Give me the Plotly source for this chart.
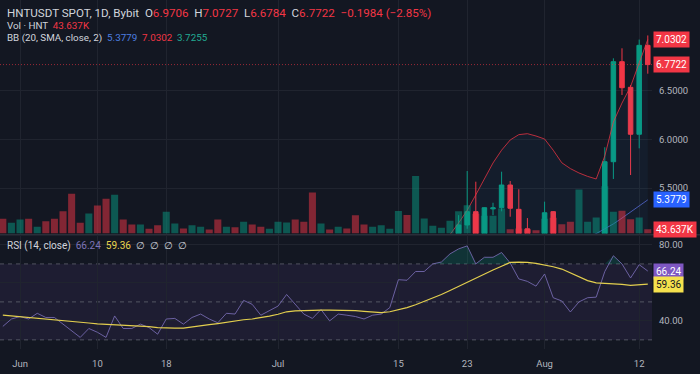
import pandas as pd
import numpy as np
import plotly.graph_objects as go

# ---------------- data ----------------
dates = pd.date_range("2024-05-30", "2024-08-13", freq="D")

N = None
open_ = [N]*53 + [5.02, 5.119, 5.256, 4.95, 5.285, 5.297, 5.531, 5.28, 5.08, N,
                  4.98, 5.256, N, N, N, N, N, 4.95, 5.771, 6.802, 6.538, 6.054, 6.9706]
high_ = [N]*53 + [5.22, 5.675, 5.565, 5.30, 5.348, 5.668, 5.572, 5.487, 5.19, N,
                  5.359, 5.263, N, N, N, N, N, 5.92, 6.837, 6.94, 6.56, 7.03, 7.0727]
low_ = [N]*53 + [4.98, 5.08, 4.90, 4.90, 5.22, 5.26, 5.204, 4.95, 4.95, N,
                 4.95, 4.90, N, N, N, N, N, 4.90, 5.593, 6.459, 5.634, 5.909, 6.6784]
close_ = [N]*53 + [5.119, 5.256, 4.95, 5.297, 5.295, 5.531, 5.291, 4.98, 5.00, N,
                   5.245, 4.95, N, N, N, N, N, 5.771, 6.802, 6.534, 6.054, 6.9706, 6.7722]

volume_k = [149, 109, 142, 149, 68, 125, 149, 226, 403, 109,
            203, 284, 352, 393, 142, 91, 91, 48, 84, 220,
            102, 51, 84, 68, 41, 142, 68, 64, 119, 91,
            68, 48, 119, 112, 142, 119, 416, 102, 41, 68,
            51, 186, 91, 68, 84, 48, 228, 188, 584, 152,
            78, 58, 129, 226, 287, 200, 180, 180, 254, 44,
            50, 44, 34, 150, 160, 94, 119, 447, 119, 162,
            480, 220, 230, 145, 162, 43.637]

# bar direction (u = up / green, d = down / red)
direction = list("duududdddd" "uddudduddu" "uduuddudud" "duuudddudu" "ddduuuuduu"
                 "uuuuuduuud" "ddduddduuu" "uuddud")

bb_upper = [N]*50 + [4.85, 4.93, 5.02, 5.14, 5.27, 5.43, 5.595, 5.758, 5.89, 5.995,
                     6.05, 6.06, 6.036, 6.005, 5.89, 5.76, 5.70, 5.655, 5.62, 5.593,
                     5.83, 6.18, 6.376, 6.546, 6.79, 7.0302]
bb_basis = [N]*68 + [4.99, 5.03, 5.08, 5.13, 5.19, 5.25, 5.31, 5.3779]
bb_lower_last = 3.7255

rsi = [37.1, 41.0, 42.3, 41.0, 44.0, 41.8, 41.8, 38.3, 34.8, 31.3,
       36.0, 34.0, 31.3, 42.6, 36.0, 36.0, 38.3, 36.5, 33.0, 41.0,
       41.3, 38.3, 41.8, 43.6, 41.0, 39.0, 44.0, 43.6, 50.8, 48.7,
       43.0, 45.2, 47.8, 53.9, 48.7, 43.6, 41.3, 46.0, 40.0, 43.6,
       43.0, 42.3, 41.0, 43.0, 43.6, 47.0, 61.7, 61.4, 66.0, 66.0,
       70.0, 71.0, 75.3, 77.9, 79.5, 70.0, 73.5, 73.5, 76.0, 70.5,
       62.1, 60.8, 58.3, 64.7, 52.2, 50.5, 44.7, 50.0, 52.2, 52.5,
       66.0, 74.3, 70.0, 62.6, 69.6, 66.24]
rsi_ma = [43.0, 42.6, 42.3, 41.9, 41.6, 41.2, 40.8, 40.2, 39.8, 39.4,
          38.9, 38.4, 38.2, 38.0, 37.8, 37.7, 37.4, 37.0, 36.5, 36.2,
          36.2, 36.2, 36.9, 37.5, 38.0, 38.6, 39.4, 40.0, 40.6, 41.0,
          41.6, 42.5, 43.5, 44.8, 45.3, 45.5, 45.6, 45.7, 45.7, 45.7,
          45.7, 45.4, 45.0, 44.6, 44.4, 44.8, 45.7, 47.0, 48.5, 50.2,
          51.9, 53.9, 56.0, 58.2, 60.5, 62.5, 64.5, 66.8, 68.8, 70.8,
          70.9, 70.8, 70.3, 69.6, 68.5, 67.3, 65.2, 63.0, 61.2, 60.0,
          59.8, 59.5, 59.2, 58.7, 58.9, 59.36]

tick_dates = ["2024-06-01", "2024-06-10", "2024-06-18", "2024-07-01",
              "2024-07-15", "2024-07-23", "2024-08-01", "2024-08-12"]
tick_text = ["Jun", "10", "18", "Jul", "15", "23", "Aug", "12"]

# ---------------- styling ----------------
BG = "#131722"
GRID = "#20242f"
TXT = "#b2b5be"
UP = "#089981"
DN = "#F23645"
FONT = "Roboto"

vol_colors = ["rgba(8,153,129,0.5)" if d == "u" else "rgba(242,54,69,0.5)" for d in direction]

fig = go.Figure()

# volume
fig.add_trace(go.Bar(x=dates, y=volume_k, marker=dict(color=vol_colors, line=dict(width=0)),
                     width=0.82 * 86400000, yaxis="y3", xaxis="x", hoverinfo="skip"))

# BB background fill
fig.add_trace(go.Scatter(x=dates, y=bb_upper, mode="lines", line=dict(width=0),
                         fill="tozeroy", fillcolor="rgba(33,150,243,0.05)",
                         xaxis="x", yaxis="y", hoverinfo="skip"))

# candles
fig.add_trace(go.Candlestick(x=dates, open=open_, high=high_, low=low_, close=close_,
                             increasing=dict(line=dict(color=UP, width=1), fillcolor=UP),
                             decreasing=dict(line=dict(color=DN, width=1), fillcolor=DN),
                             whiskerwidth=0, xaxis="x", yaxis="y", hoverinfo="skip"))

# BB lines
fig.add_trace(go.Scatter(x=dates, y=bb_upper, mode="lines",
                         line=dict(color="rgba(242,54,69,0.75)", width=1),
                         xaxis="x", yaxis="y", hoverinfo="skip"))
fig.add_trace(go.Scatter(x=dates, y=bb_basis, mode="lines",
                         line=dict(color="rgba(90,110,220,0.75)", width=1),
                         xaxis="x", yaxis="y", hoverinfo="skip"))

# RSI overbought fill
ob_base = [70 if v > 70 or (i > 0 and rsi[i-1] > 70) or (i < len(rsi)-1 and rsi[i+1] > 70) else None
           for i, v in enumerate(rsi)]
ob_top = [max(v, 70) if b is not None else None for v, b in zip(rsi, ob_base)]
fig.add_trace(go.Scatter(x=dates, y=ob_base, mode="lines", line=dict(width=0),
                         xaxis="x2", yaxis="y2", hoverinfo="skip"))
fig.add_trace(go.Scatter(x=dates, y=ob_top, mode="lines", line=dict(width=0),
                         fill="tonexty", fillcolor="rgba(8,153,129,0.22)",
                         xaxis="x2", yaxis="y2", hoverinfo="skip"))

# RSI + MA
fig.add_trace(go.Scatter(x=dates, y=rsi, mode="lines",
                         line=dict(color="rgba(120,108,180,0.85)", width=1),
                         xaxis="x2", yaxis="y2", hoverinfo="skip"))
fig.add_trace(go.Scatter(x=dates, y=rsi_ma, mode="lines",
                         line=dict(color="#E3CF4E", width=1.2),
                         xaxis="x2", yaxis="y2", hoverinfo="skip"))

# ---------------- layout ----------------
W, H = 700, 374
plot_h = 349
x_right = 652 / W
main_bot = (plot_h - 233.5) / plot_h
rsi_top = (plot_h - 236) / plot_h

day = pd.Timedelta(days=1)
x_range = [dates[0] - 0.33 * day, dates[0] + 75.49 * day]

p_lo, p_hi = 5.031, 7.438
vol_hi = 2370
r_lo, r_hi = 25.2, 84.7

axis_font = dict(family=FONT, size=9.5, color=TXT)

fig.update_layout(
    width=W, height=H, margin=dict(l=0, r=0, t=0, b=H - plot_h),
    paper_bgcolor=BG, plot_bgcolor=BG, showlegend=False, hovermode=False,
    boxgap=0.25,
    xaxis=dict(domain=[0, x_right], anchor="y", range=x_range, type="date",
               tickvals=tick_dates, ticktext=tick_text, showticklabels=False,
               showgrid=True, gridcolor=GRID, gridwidth=1, zeroline=False,
               rangeslider=dict(visible=False), showline=False, ticks=""),
    xaxis2=dict(domain=[0, x_right], anchor="y2", range=x_range, type="date", matches="x",
                tickvals=tick_dates, ticktext=tick_text, showticklabels=True,
                tickfont=axis_font, showgrid=True, gridcolor=GRID, gridwidth=1,
                zeroline=False, showline=False, ticks="", ticklabelstandoff=7),
    yaxis=dict(domain=[main_bot, 1], anchor="x", side="right", range=[p_lo, p_hi],
               tickvals=[5.5, 6.0, 6.5], ticktext=["5.5000", "6.0000", "6.5000"],
               tickfont=axis_font, showgrid=True, gridcolor=GRID, zeroline=False,
               ticks="", ticklabelstandoff=6),
    yaxis3=dict(overlaying="y", range=[0, vol_hi], visible=False, showgrid=False),
    yaxis2=dict(domain=[0, rsi_top], anchor="x2", side="right", range=[r_lo, r_hi],
                tickvals=[40, 60, 80], ticktext=["40.00", "", "80.00"],
                tickfont=axis_font, showgrid=True, gridcolor=GRID, zeroline=False,
                ticks="", ticklabelstandoff=6),
)

shapes = []
shapes.append(dict(type="rect", xref="x2 domain", yref="y2", x0=0, x1=1, y0=30, y1=70,
                   fillcolor="rgba(126,87,194,0.10)", line=dict(width=0), layer="below"))
for lvl in (70, 50, 30):
    shapes.append(dict(type="line", xref="x2 domain", yref="y2", x0=0, x1=1, y0=lvl, y1=lvl,
                       line=dict(color="rgba(120,123,134,0.6)", width=1, dash="4px,4px"),
                       layer="below"))
sep_y = (plot_h - 234.8) / plot_h
shapes.append(dict(type="line", xref="paper", yref="paper", x0=0, x1=1, y0=sep_y, y1=sep_y,
                   line=dict(color="#2a2e39", width=1.5)))
shapes.append(dict(type="line", xref="x domain", yref="y", x0=0, x1=1,
                   y0=close_[-1], y1=close_[-1],
                   line=dict(color="rgba(242,54,69,0.6)", width=1, dash="1px,2px")))
fig.update_layout(shapes=shapes)

ann = []


def axis_label(y, yref, text, bg, fg="#ffffff"):
    ann.append(dict(x=x_right + 0.001, xref="paper", y=y, yref=yref, xanchor="left",
                    yanchor="middle", text=text, showarrow=False, bgcolor=bg,
                    font=dict(family=FONT, size=10, color=fg), borderpad=2))


axis_label(bb_upper[-1], "y", f"{bb_upper[-1]:.4f}", DN)
axis_label(close_[-1], "y", f"{close_[-1]:.4f}", DN)
axis_label(bb_basis[-1], "y", f"{bb_basis[-1]:.4f}", "#2962FF")
axis_label(volume_k[-1], "y3", f"{volume_k[-1]:.3f}K", DN)
axis_label(rsi[-1], "y2", f"{rsi[-1]:.2f}", "#7E57C2")
axis_label(rsi_ma[-1], "y2", f"{rsi_ma[-1]:.2f}", "#F5E14D", "#131722")

W_T = "#d1d4dc"
R_T = "#F23645"


def sp(t, c):
    return f"<span style='color:{c}'>{t}</span>"


chg = close_[-1] - close_[-2]
pct = chg / close_[-2] * 100
line1 = (sp("HNTUSDT SPOT, 1D, Bybit  ", W_T) +
         sp("O", W_T) + sp(f"{open_[-1]:.4f}  ", R_T) +
         sp("H", W_T) + sp(f"{high_[-1]:.4f}  ", R_T) +
         sp("L", W_T) + sp(f"{low_[-1]:.4f}  ", R_T) +
         sp("C", W_T) + sp(f"{close_[-1]:.4f}  ", R_T) +
         sp(f"\u2212{abs(chg):.4f} (\u2212{abs(pct):.2f}%)", R_T))
line2 = sp("Vol \u00b7 HNT  ", W_T) + sp(f"{volume_k[-1]:.3f}K", R_T)
line3 = (sp("BB (20, SMA, close, 2)  ", W_T) + sp(f"{bb_basis[-1]:.4f}  ", "#4d7fe0") +
         sp(f"{bb_upper[-1]:.4f}  ", R_T) + sp(f"{bb_lower_last:.4f}", "#22ab94"))
line4 = (sp("RSI (14, close)  ", W_T) + sp(f"{rsi[-1]:.2f}  ", "#7e74b8") +
         sp(f"{rsi_ma[-1]:.2f}  ", "#E8D44D") + sp("\u2205  \u2205  \u2205  \u2205", W_T))

for txt, ypx, fs in ((line1, 13, 11.6), (line2, 25.5, 9.8), (line3, 38, 9.8), (line4, 246, 10)):
    ann.append(dict(x=5 / W, xref="paper", y=1 - ypx / plot_h, yref="paper",
                    xanchor="left", yanchor="middle", text=txt, showarrow=False,
                    font=dict(family=FONT, size=fs, color=W_T)))

fig.update_layout(annotations=ann)

fig.write_html("out.html", config={"displayModeBar": False},
               post_script="document.body.style.margin='0';")
